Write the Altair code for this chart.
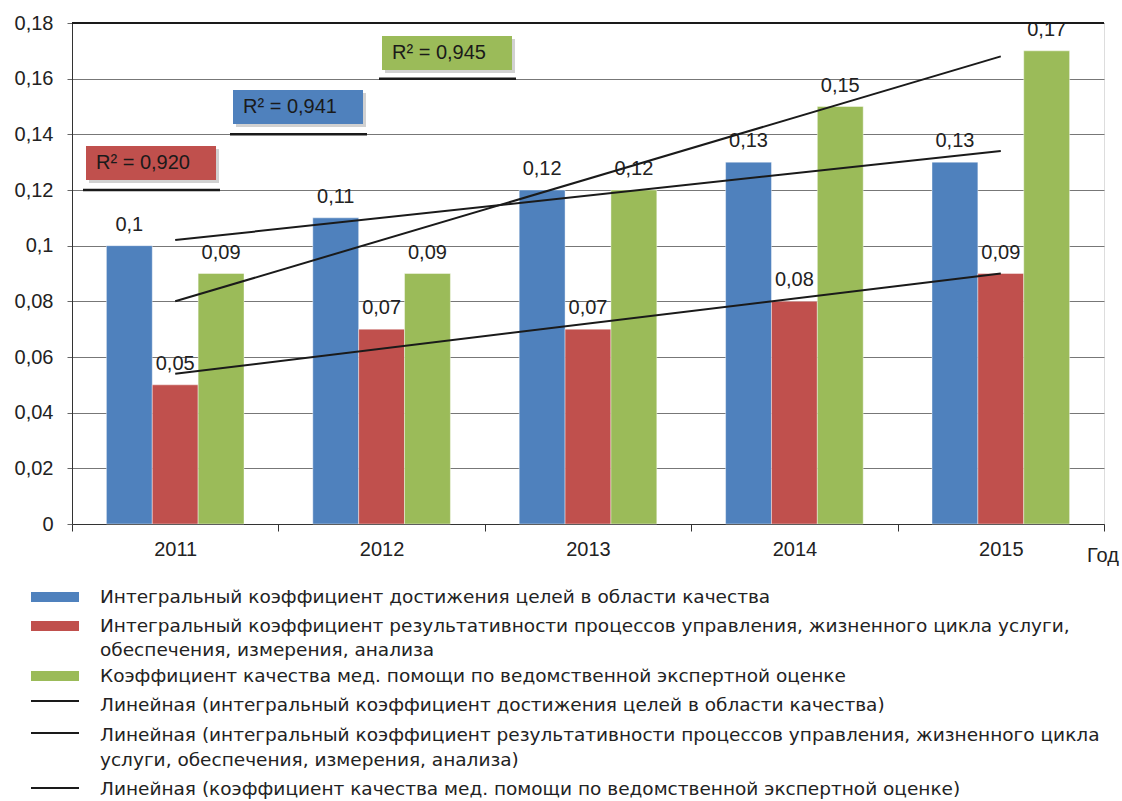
import altair as alt
import pandas as pd

# ---------------- data ----------------
years = ["2011", "2012", "2013", "2014", "2015"]
year_nums = [2011, 2012, 2013, 2014, 2015]
series_keys = ["a", "b", "c"]
blue_vals = [0.10, 0.11, 0.12, 0.13, 0.13]
red_vals = [0.05, 0.07, 0.07, 0.08, 0.09]
green_vals = [0.09, 0.09, 0.12, 0.15, 0.17]
colors = ["#4F81BD", "#C0504D", "#9BBB59"]
y_ticks = [0, 0.02, 0.04, 0.06, 0.08, 0.10, 0.12, 0.14, 0.16, 0.18]
y_max = [0.18]
r2_texts = ["R² = 0,920", "R² = 0,941", "R² = 0,945"]
r2_colors = ["#C0504D", "#4F81BD", "#9BBB59"]
r2_grid_values = [0.12, 0.14, 0.16]
legend_lines = [
    "Интегральный коэффициент достижения целей в области качества",
    "Интегральный коэффициент результативности процессов управления, жизненного цикла услуги,",
    "обеспечения, измерения, анализа",
    "Коэффициент качества мед. помощи по ведомственной экспертной оценке",
    "Линейная (интегральный коэффициент достижения целей в области качества)",
    "Линейная (интегральный коэффициент результативности процессов управления, жизненного цикла",
    "услуги, обеспечения, измерения, анализа)",
    "Линейная (коэффициент качества мед. помощи по ведомственной экспертной оценке)",
]
x_title = "Год"

# ---------------- layout (pixels, relative to plot origin) ----------------
FONT = "Liberation Sans"
LEG_FONT = "DejaVu Sans"
W, H = 1032, 501
box_x = [14, 161, 310]
box_y = [123, 67, 13]
box_w, box_h = 130, 34
legend_text_y = [574, 603, 627, 653, 682, 712, 737, 766]
legend_swatch_y = [574, 603, 653]
legend_line_y = [678, 710, 765]

rows = []
for key, vals in zip(series_keys, [blue_vals, red_vals, green_vals]):
    for y, yn, v in zip(years, year_nums, vals):
        rows.append({"year": y, "year_num": yn, "series": key, "value": v})
df = pd.DataFrame(rows)

color_scale = alt.Scale(domain=series_keys, range=colors)
x_band = alt.Scale(paddingInner=0, paddingOuter=0)
off_scale = alt.Scale(paddingInner=0, paddingOuter=0.75)
y_scale = alt.Scale(domain=[0, 0.18], nice=False)

x_axis = alt.Axis(title=None, tickBand="extent", labelAngle=0, labelFont=FONT,
                  labelFontSize=20, labelColor="#222", tickSize=7, tickColor="#333",
                  domainColor="#333", labelPadding=8, grid=False)
y_axis = alt.Axis(title=None, values=y_ticks,
                  labelExpr="replace(format(datum.value, '.2~f'), '.', ',')",
                  labelFont=FONT, labelFontSize=20, labelColor="#222",
                  tickSize=5, tickColor="#666", domainColor="#333",
                  labelPadding=14, grid=True, gridColor="#777777", gridWidth=1)

X_ENC = alt.X("year:N", scale=x_band, sort=years, axis=x_axis)
XOFF = alt.XOffset("series:N", scale=off_scale, sort=series_keys)
Y_ENC = alt.Y("value:Q", scale=y_scale, axis=y_axis)

bars = alt.Chart(df).mark_bar(stroke="white", strokeWidth=0.6, strokeOpacity=0.7).encode(
    x=X_ENC, xOffset=XOFF, y=Y_ENC,
    color=alt.Color("series:N", scale=color_scale, legend=None),
)

labels = alt.Chart(df).transform_calculate(
    lab="replace(format(datum.value, '~g'), '.', ',')"
).mark_text(font=FONT, fontSize=20, color="#222", baseline="alphabetic", dy=-15).encode(
    x=X_ENC, xOffset=XOFF, y=Y_ENC, text="lab:N",
)

trend = alt.Chart(df).transform_regression(
    "year_num", "value", groupby=["series"], extent=[2011, 2015]
).mark_line(color="#1a1a1a", strokeWidth=2).encode(
    x=alt.X("year_num:Q", scale=alt.Scale(domain=[2010.5, 2015.5], nice=False, zero=False), axis=None),
    y=Y_ENC,
    detail="series:N",
)

# dark top border line of the plot area
top_rule = alt.Chart(pd.DataFrame({"value": y_max})).mark_rule(
    color="#1a1a1a", strokeWidth=2
).encode(x=alt.value(0), x2=alt.value(W), y=Y_ENC)

# R² boxes
box_df = pd.DataFrame({
    "x": box_x, "x2": [v + box_w for v in box_x],
    "y": box_y, "y2": [v + box_h for v in box_y],
    "sx": [v + 3 for v in box_x], "sx2": [v + box_w + 3 for v in box_x],
    "sy": [v + 3 for v in box_y], "sy2": [v + box_h + 3 for v in box_y],
    "tx": [v + 10 for v in box_x], "ty": [v + box_h / 2 for v in box_y],
    "text": r2_texts, "col": r2_colors,
    "ux": [v - 3 for v in box_x], "ux2": [v + box_w + 4 for v in box_x],
    "value": r2_grid_values,
})
shadow = alt.Chart(box_df).mark_rect(color="#000", opacity=0.18).encode(
    x=alt.X("sx:Q", scale=None), x2="sx2:Q", y=alt.Y("sy:Q", scale=None), y2="sy2:Q")
under = alt.Chart(box_df).mark_rule(color="#1a1a1a", strokeWidth=2.5).encode(
    x=alt.X("ux:Q", scale=None), x2="ux2:Q", y=Y_ENC)
boxes = alt.Chart(box_df).mark_rect().encode(
    x=alt.X("x:Q", scale=None), x2="x2:Q", y=alt.Y("y:Q", scale=None), y2="y2:Q",
    color=alt.Color("col:N", scale=None))
box_text = alt.Chart(box_df).mark_text(font=FONT, fontSize=20, color="#1a1a1a",
                                       align="left", baseline="middle").encode(
    x=alt.X("tx:Q", scale=None), y=alt.Y("ty:Q", scale=None), text="text:N")

# axis title "Год"
god = alt.Chart(pd.DataFrame({"t": [x_title]})).mark_text(
    font=FONT, fontSize=20, color="#222", align="left", baseline="middle"
).encode(x=alt.value(W - 17), y=alt.value(H + 32), text="t:N")

# legend
leg_text_df = pd.DataFrame({"t": legend_lines, "y": legend_text_y})
leg_text = alt.Chart(leg_text_df).mark_text(
    font=LEG_FONT, fontSize=18.5, color="#222", align="left", baseline="middle"
).encode(x=alt.value(28), y=alt.Y("y:Q", scale=None), text="t:N")

leg_sw_df = pd.DataFrame({"y": [v - 5 for v in legend_swatch_y],
                          "y2": [v + 5 for v in legend_swatch_y], "c": colors})
leg_sw = alt.Chart(leg_sw_df).mark_rect().encode(
    x=alt.value(-41), x2=alt.value(7), y=alt.Y("y:Q", scale=None), y2="y2:Q",
    color=alt.Color("c:N", scale=None))
leg_ln_df = pd.DataFrame({"y": legend_line_y})
leg_ln = alt.Chart(leg_ln_df).mark_rule(color="#1a1a1a", strokeWidth=2).encode(
    x=alt.value(-41), x2=alt.value(7), y=alt.Y("y:Q", scale=None))

chart = alt.layer(
    alt.layer(bars, labels),
    trend, top_rule, under, shadow, boxes, box_text, god, leg_text, leg_sw, leg_ln,
).resolve_scale(x="independent").properties(
    width=W, height=H,
    padding={"left": 72, "top": 23, "right": 18, "bottom": 277},
    autosize=alt.AutoSizeParams(type="none"),
).configure_view(stroke="#333", strokeWidth=1).configure(background="white")

chart.save("out.html", embed_options={"renderer": "svg", "actions": False})
